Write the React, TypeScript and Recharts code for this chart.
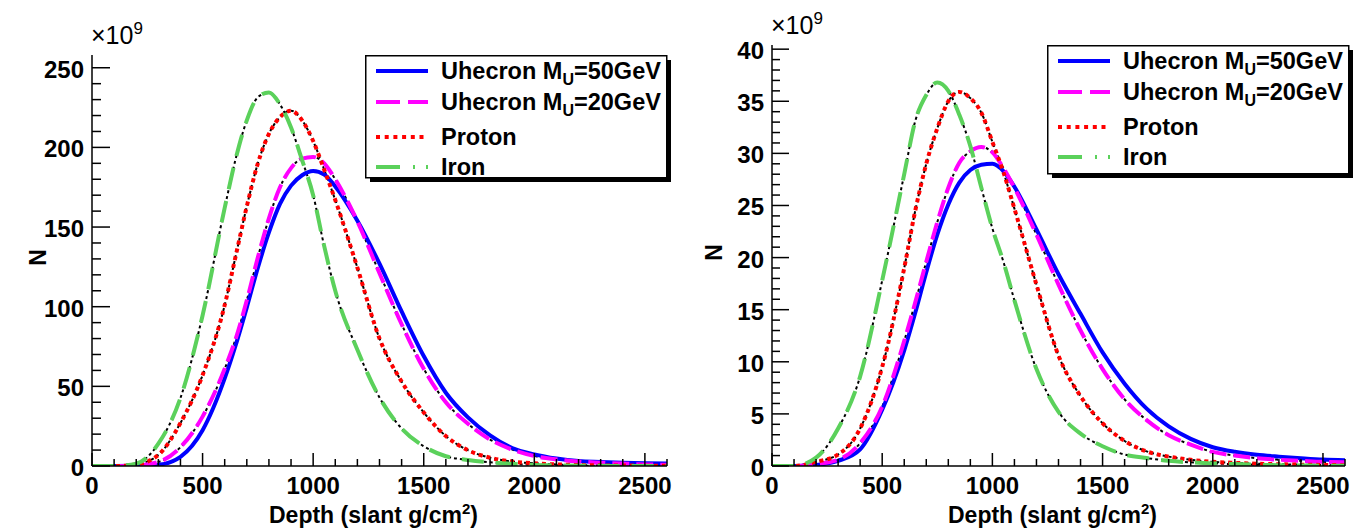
import { LineChart, Line, XAxis, YAxis, Legend } from "recharts";

// depth in slant g/cm2, finer around the maxima
const depth = [0, 100, 200, 300, 400, 500, 600, 650, 700, 750, 800, 850, 900, 950, 1000, 1050, 1100, 1200, 1300, 1400, 1500, 1600, 1700, 1800, 1900, 2000, 2100, 2200, 2300, 2400, 2500, 2600];

// left panel, N in units of 1e9
const u50Left = [0, 0, 0.1, 0.8, 5.8, 22.5, 55, 76, 99.6, 124.5, 146.6, 164.5, 176, 182.5, 185.2, 183, 175.5, 154, 127, 97, 69, 46, 30.5, 19.2, 11.3, 7.3, 4.7, 3.1, 2.5, 2.0, 1.7, 1.5];
const u20Left = [0, 0, 0.3, 2.5, 11.8, 31, 61, 80, 104, 131, 155.5, 175, 187, 193, 194, 190, 180, 153.5, 121, 89, 61, 40, 26.5, 16.6, 10.3, 6.3, 4.2, 2.8, 2.1, 1.5, 1.0, 0.8];
const protonLeft = [0, 0, 1, 7, 27, 57, 101, 132, 163, 190, 208.5, 219, 223, 217, 204, 186, 167, 124.5, 80, 53, 33.6, 18.8, 9.9, 5.2, 2.8, 1.7, 1.0, 0.6, 0.4, 0.3, 0.2, 0.1];
const ironLeft = [0, 0, 1.5, 14, 42.7, 94.5, 162, 193, 217, 231.5, 234.5, 227, 212.5, 192, 170, 138, 110, 73, 43, 23.6, 12.4, 6.1, 3.8, 2.3, 1.35, 0.7, 0.4, 0.2, 0.1, 0.05, 0.03, 0.02];

// right panel
const u50Right = [0, 0, 0.1, 0.5, 1.6, 5.4, 11.1, 14.7, 18.6, 22.2, 25.1, 27.2, 28.4, 28.9, 29.0, 28.3, 26.8, 22.7, 18.4, 14.6, 10.9, 7.9, 5.5, 3.8, 2.6, 1.8, 1.36, 1.08, 0.9, 0.75, 0.62, 0.55];
const u20Right = [0, 0, 0.2, 0.6, 2.2, 5.7, 12, 15.7, 19.6, 23.4, 26.7, 29.1, 30.2, 30.6, 30.1, 28.6, 26.7, 22.2, 17.4, 13, 9.3, 6.4, 4.4, 2.95, 2.05, 1.35, 1.0, 0.75, 0.6, 0.5, 0.4, 0.35];
const protonRight = [0, 0, 0.4, 1.1, 3.6, 9.5, 19, 24.5, 29, 32.4, 35, 35.9, 35.3, 33.9, 31.1, 28.2, 24.7, 17.4, 10.6, 6.7, 4.1, 2.4, 1.4, 0.9, 0.6, 0.4, 0.3, 0.22, 0.17, 0.13, 0.1, 0.08];
const ironRight = [0, 0, 0.8, 3.6, 8.6, 17.8, 28, 33.1, 35.6, 36.8, 36.0, 33.7, 30.7, 26.7, 22.8, 19.6, 15.9, 9.3, 5.2, 3.1, 1.9, 1.1, 0.76, 0.5, 0.35, 0.25, 0.18, 0.12, 0.08, 0.05, 0.03, 0.02];

const xTicks = [0, 100, 200, 300, 400, 500, 600, 700, 800, 900, 1000, 1100, 1200, 1300, 1400, 1500, 1600, 1700, 1800, 1900, 2000, 2100, 2200, 2300, 2400, 2500, 2600];
const xMajors = [0, 500, 1000, 1500, 2000, 2500];
const yMajorsLeft = [0, 50, 100, 150, 200, 250];
const yMajorsRight = [0, 5, 10, 15, 20, 25, 30, 35, 40];

const FONT = '"Liberation Sans", Arial, Helvetica, sans-serif';
const H = 531;

const series = [
  { key: "u50", label: "Uhecron M", sub: "U", tail: "=50GeV", color: "#0000ff", dash: undefined, legendDash: undefined },
  { key: "u20", label: "Uhecron M", sub: "U", tail: "=20GeV", color: "#ff00ff", dash: "17 7", legendDash: "24 8" },
  { key: "proton", label: "Proton", sub: "", tail: "", color: "#ff0000", dash: "4 4", legendDash: "4 4.7" },
  { key: "iron", label: "Iron", sub: "", tail: "", color: "#5bd15b", dash: "22 12", legendDash: "24 13 2 11 2 50" },
];

function buildRows(u50: number[], u20: number[], proton: number[], iron: number[]) {
  return depth.map((d, i) => ({ depth: d, u50: u50[i], u20: u20[i], proton: proton[i], iron: iron[i] }));
}

function minorTicks(max: number, step: number) {
  const out: number[] = [];
  for (let v = 0; v <= max + 1e-9; v += step) out.push(Math.round(v * 100) / 100);
  return out;
}

function makeYTick(majors: number[], majorLen: number, minorLen: number) {
  return (p: any) => {
    const v = p.payload.value;
    const isMajor = majors.includes(v);
    return (
      <g>
        <line x1={p.x} x2={p.x + (isMajor ? majorLen : minorLen)} y1={p.y} y2={p.y} stroke="#000" strokeWidth={1.5} />
        {isMajor && (
          <text x={p.x - 8} y={p.y + 10} textAnchor="end" fontFamily={FONT} fontWeight="bold" fontSize={24} fill="#000">
            {v}
          </text>
        )}
      </g>
    );
  };
}

function XTick(p: any) {
  const v = p.payload.value;
  const isMajor = xMajors.includes(v);
  return (
    <g>
      <line x1={p.x} x2={p.x} y1={p.y} y2={p.y - (isMajor ? 13 : 7)} stroke="#000" strokeWidth={1.5} />
      {isMajor && (
        <text x={p.x} y={p.y + 28} textAnchor="middle" fontFamily={FONT} fontWeight="bold" fontSize={24} fill="#000">
          {v}
        </text>
      )}
    </g>
  );
}

function LegendBox({ h }: { h: number }) {
  const rowY = [16, 47, 82, 112];
  return (
    <svg width={312} height={h + 8} style={{ display: "block" }}>
      <rect x={5} y={5} width={301} height={h} fill="#000" />
      <rect x={0.75} y={0.75} width={301} height={h} fill="#fff" stroke="#000" strokeWidth={1.5} />
      {series.map((s, i) => (
        <g key={s.key}>
          <line x1={11} x2={63} y1={rowY[i]} y2={rowY[i]} stroke={s.color} strokeWidth={4} strokeDasharray={s.legendDash} />
          <text x={76} y={rowY[i] + 8} fontFamily={FONT} fontWeight="bold" fontSize={23.5} fill="#000">
            {s.label}
            {s.sub && (
              <tspan fontSize={16} dy={6}>
                {s.sub}
              </tspan>
            )}
            {s.tail && (
              <tspan fontSize={23.5} dy={-6}>
                {s.tail}
              </tspan>
            )}
          </text>
        </g>
      ))}
    </svg>
  );
}

type PanelProps = {
  rows: any[];
  pageLeft: number;
  chartWidth: number;
  plotLeft: number;
  plotRight: number;
  plotTop: number;
  yMax: number;
  yMajors: number[];
  yMinorStep: number;
  yMajorLen: number;
  yMinorLen: number;
  legendLeft: number;
  legendTop: number;
  legendH: number;
  nOffset: number;
};

function Panel(props: PanelProps) {
  const { rows, pageLeft, chartWidth, plotLeft, plotRight, plotTop, yMax, yMajors, yMinorStep, yMajorLen, yMinorLen } = props;
  const yTicks = minorTicks(yMax, yMinorStep);
  const YTick = makeYTick(yMajors, yMajorLen, yMinorLen);
  return (
    <div style={{ position: "absolute", left: pageLeft, top: 0, width: chartWidth, height: H }}>
      <LineChart width={chartWidth} height={H} data={rows} margin={{ top: plotTop, right: chartWidth - plotRight, bottom: 0, left: 0 }}>
        <XAxis
          type="number"
          dataKey="depth"
          domain={[0, 2600]}
          ticks={xTicks}
          interval={0}
          allowDataOverflow
          height={65}
          tickSize={0}
          tickMargin={0}
          tickLine={false}
          axisLine={{ stroke: "#000", strokeWidth: 1.5 }}
          tick={(p: any) => <XTick {...p} />}
          label={(p: any) => {
            const vb = p.viewBox;
            return (
              <text x={vb.x + vb.width / 2 - 6} y={vb.y + 57} textAnchor="middle" fontFamily={FONT} fontWeight="bold" fontSize={23} fill="#000">
                Depth (slant g/cm
                <tspan fontSize={15} dy={-9}>2</tspan>
                <tspan dy={9}>)</tspan>
              </text>
            );
          }}
        />
        <XAxis xAxisId="top" orientation="top" type="number" domain={[0, 2600]} height={0} tick={false} tickLine={false} axisLine={{ stroke: "#000", strokeWidth: 1.2 }} />
        <YAxis
          type="number"
          domain={[0, yMax]}
          ticks={yTicks}
          interval={0}
          allowDataOverflow
          width={plotLeft}
          tickSize={0}
          tickMargin={0}
          tickLine={false}
          axisLine={{ stroke: "#000", strokeWidth: 1.5 }}
          tick={YTick}
          label={(p: any) => {
            const vb = p.viewBox;
            const cy = vb.y + vb.height / 2 - 3;
            const nx = vb.x + props.nOffset;
            return (
              <g>
                <text x={nx} y={cy} transform={`rotate(-90 ${nx} ${cy})`} textAnchor="middle" dominantBaseline="central" fontFamily={FONT} fontWeight="bold" fontSize={23} fill="#000">
                  N
                </text>
                <text x={vb.x + vb.width - 1} y={vb.y - 11} fontFamily={FONT} fontSize={25} fill="#000">
                  ×10
                  <tspan fontSize={17} dy={-10}>9</tspan>
                </text>
              </g>
            );
          }}
        />
        <YAxis yAxisId="right" orientation="right" width={0} type="number" domain={[0, yMax]} tick={false} tickLine={false} axisLine={{ stroke: "#8b0000", strokeWidth: 1.5 }} />
        <Legend
          layout="vertical"
          align="center"
          verticalAlign="middle"
          wrapperStyle={{ position: "absolute", left: props.legendLeft, top: props.legendTop, width: 312, height: props.legendH + 8 }}
          content={() => <LegendBox h={props.legendH} />}
        />
        {/* thin black dotted curves underneath */}
        <Line type="monotone" dataKey="u20" stroke="#000" strokeWidth={2} strokeDasharray="3 3" dot={false} legendType="none" isAnimationActive={false} />
        <Line type="monotone" dataKey="proton" stroke="#000" strokeWidth={2} strokeDasharray="3 3" dot={false} legendType="none" isAnimationActive={false} />
        <Line type="monotone" dataKey="iron" stroke="#000" strokeWidth={2} strokeDasharray="3 3" dot={false} legendType="none" isAnimationActive={false} />
        {series.map((s) => (
          <Line
            key={s.key}
            type="monotone"
            dataKey={s.key}
            stroke={s.color}
            strokeWidth={4}
            strokeDasharray={s.dash}
            strokeLinecap="butt"
            dot={false}
            isAnimationActive={false}
          />
        ))}
      </LineChart>
    </div>
  );
}

export default function App() {
  const leftRows = buildRows(u50Left, u20Left, protonLeft, ironLeft);
  const rightRows = buildRows(u50Right, u20Right, protonRight, ironRight);
  return (
    <div style={{ position: "absolute", left: 0, top: 0, width: 1367, height: H, background: "#fff" }}>
      <Panel
        rows={leftRows}
        pageLeft={0}
        chartWidth={690}
        plotLeft={92}
        plotRight={667}
        plotTop={55}
        yMax={258}
        yMajors={yMajorsLeft}
        yMinorStep={10}
        yMajorLen={18}
        yMinorLen={9}
        legendLeft={365}
        legendTop={55}
        legendH={122}
        nOffset={38}
      />
      <Panel
        rows={rightRows}
        pageLeft={683}
        chartWidth={684}
        plotLeft={89}
        plotRight={662}
        plotTop={45}
        yMax={40.4}
        yMajors={yMajorsRight}
        yMinorStep={1}
        yMajorLen={17}
        yMinorLen={8}
        legendLeft={364}
        legendTop={45}
        legendH={128}
        nOffset={31}
      />
    </div>
  );
}
